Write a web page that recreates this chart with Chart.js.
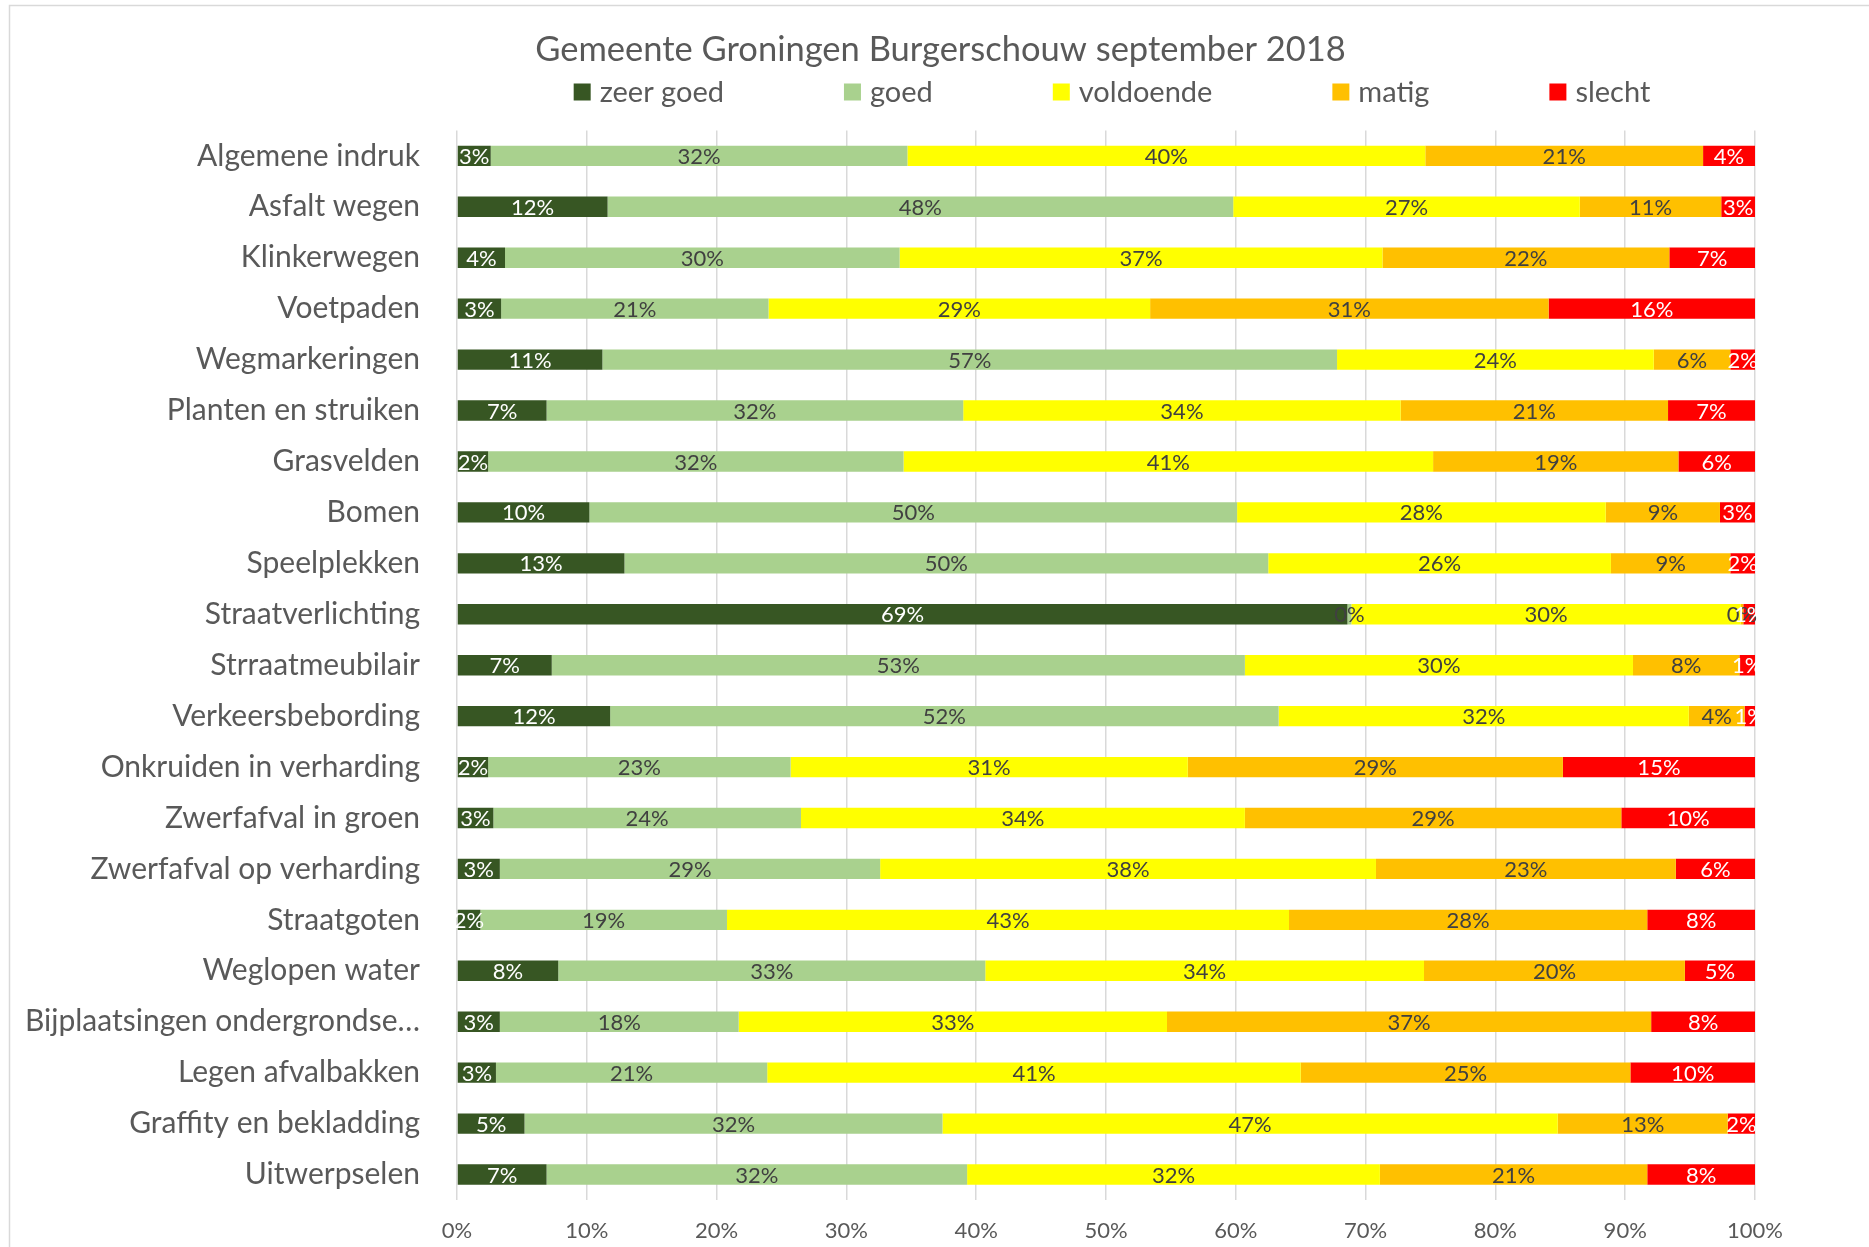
<!DOCTYPE html>
<html>
<head>
<meta charset="utf-8">
<title>Gemeente Groningen Burgerschouw september 2018</title>
<script src="https://cdn.jsdelivr.net/npm/chart.js@4.4.1/dist/chart.umd.min.js"></script>
<style>
  html, body { margin: 0; padding: 0; background: #ffffff; }
  #wrap { width: 1869px; height: 1247px; }
</style>
</head>
<body>
<div id="wrap"><canvas id="schouwChart" width="1869" height="1247"></canvas></div>
<script>
// Burgerschouw - 100% gestapelde balken per onderdeel

var FONT = "Lato, 'Liberation Sans', sans-serif";

var categories = [
    'Algemene indruk', 'Asfalt wegen', 'Klinkerwegen', 'Voetpaden', 'Wegmarkeringen',
    'Planten en struiken', 'Grasvelden', 'Bomen', 'Speelplekken', 'Straatverlichting',
    'Strraatmeubilair', 'Verkeersbebording', 'Onkruiden in verharding', 'Zwerfafval in groen',
    'Zwerfafval op verharding', 'Straatgoten', 'Weglopen water', 'Bijplaatsingen ondergrondse\u2026',
    'Legen afvalbakken', 'Graffity en bekladding', 'Uitwerpselen'
];

var seriesNames = ['zeer goed', 'goed', 'voldoende', 'matig', 'slecht'];
var seriesColors = ['#375623', '#A9D18E', '#FFFF00', '#FFC000', '#FF0000'];

// percentages (per row they add up to ~100)
var zeerGoed  = [2.6, 11.6, 3.7, 3.4, 11.2, 6.9, 2.4, 10.2, 12.9, 68.6, 7.3, 11.8, 2.4, 2.8, 3.3, 1.8, 7.8, 3.3, 3.0, 5.2, 6.9];
var goed      = [32.1, 48.2, 30.4, 20.6, 56.6, 32.1, 32.0, 49.9, 49.6, 0.3, 53.4, 51.5, 23.3, 23.7, 29.3, 19.0, 32.9, 18.4, 20.9, 32.2, 32.4];
var voldoende = [39.9, 26.7, 37.2, 29.4, 24.4, 33.7, 40.8, 28.4, 26.4, 30.0, 29.9, 31.6, 30.6, 34.2, 38.2, 43.3, 33.8, 33.0, 41.1, 47.4, 31.8];
var matig     = [21.4, 10.9, 22.1, 30.7, 5.9, 20.6, 18.9, 8.8, 9.2, 0.2, 8.2, 4.3, 28.9, 29.0, 23.1, 27.6, 20.1, 37.3, 25.4, 13.1, 20.6];
var slecht    = [4.0, 2.6, 6.6, 15.9, 1.9, 6.7, 5.9, 2.7, 1.9, 0.9, 1.2, 0.8, 14.8, 10.3, 6.1, 8.3, 5.4, 8.0, 9.6, 2.1, 8.3];

var xTicks = [0, 10, 20, 30, 40, 50, 60, 70, 80, 90, 100];

var seriesValues = [zeerGoed, goed, voldoende, matig, slecht];

// thin grey frame like the Excel chart border
var framePlugin = {
    id: 'frame',
    beforeDraw: function(chart) {
        var ctx = chart.ctx;
        ctx.save();
        ctx.fillStyle = '#ffffff';
        ctx.fillRect(0, 0, chart.width, chart.height);
        ctx.strokeStyle = '#d9d9d9';
        ctx.lineWidth = 1.5;
        ctx.strokeRect(9.5, 5.5, chart.width + 20, chart.height + 20);
        ctx.restore();
    }
};

// legend in Excel style: fixed gap after each text
var legendPlugin = {
    id: 'excelLegend',
    afterDraw: function(chart) {
        var ctx = chart.ctx;
        var box = 17, textGap = 9, itemGap = 120, y = 92;
        ctx.save();
        ctx.font = '29px ' + FONT;
        ctx.textBaseline = 'middle';
        ctx.textAlign = 'left';
        var widths = chart.data.datasets.map(function(ds) { return ctx.measureText(ds.label).width; });
        var total = 0;
        widths.forEach(function(w, i) {
            total += box + textGap + w + (i < widths.length - 1 ? itemGap : 0);
        });
        var area = chart.chartArea;
        var x = (area.left + area.right) / 2 - total / 2 + 6;
        chart.data.datasets.forEach(function(ds, i) {
            ctx.fillStyle = ds.backgroundColor;
            ctx.fillRect(x, y - box / 2, box, box);
            ctx.fillStyle = '#595959';
            ctx.fillText(ds.label, x + box + textGap, y + 1);
            x += box + textGap + widths[i] + itemGap;
        });
        ctx.restore();
    }
};

// value labels centred in each segment
var labelPlugin = {
    id: 'segmentLabels',
    afterDatasetsDraw: function(chart) {
        var ctx = chart.ctx;
        ctx.save();
        ctx.font = '22px ' + FONT;
        ctx.textAlign = 'center';
        ctx.textBaseline = 'middle';
        chart.data.datasets.forEach(function(ds, di) {
            var meta = chart.getDatasetMeta(di);
            meta.data.forEach(function(bar, i) {
                var cx = (bar.x + bar.base) / 2;
                ctx.fillStyle = (di === 0 || di === 4) ? '#ffffff' : '#404040';
                ctx.fillText(Math.round(ds.data[i]) + '%', cx, bar.y + 1);
            });
        });
        ctx.restore();
    }
};

var datasets = seriesNames.map(function(name, i) {
    return {
        label: name,
        data: seriesValues[i],
        backgroundColor: seriesColors[i],
        borderWidth: 0,
        barPercentage: 0.4,
        categoryPercentage: 1.0
    };
});

var ctx = document.getElementById('schouwChart');
var schouwChart = new Chart(ctx, {
    type: 'bar',
    data: { labels: categories, datasets: datasets },
    options: {
        indexAxis: 'y',
        responsive: false,
        animation: false,
        devicePixelRatio: 1,
        layout: { padding: { top: 0, right: 0, bottom: 0, left: 12 } },
        plugins: {
            legend: { display: false },
            tooltip: { enabled: false },
            title: {
                display: true,
                text: 'Gemeente Groningen Burgerschouw september 2018',
                color: '#595959',
                font: { family: FONT, size: 34.5, weight: 'normal' },
                padding: { top: 29, bottom: 60 }
            }
        },
        scales: {
            x: {
                stacked: true,
                min: 0,
                max: 100,
                afterBuildTicks: function(scale) {
                    scale.ticks = xTicks.map(function(v) { return { value: v }; });
                },
                afterFit: function(scale) { scale.height = 47; },
                ticks: {
                    color: '#595959',
                    font: { family: FONT, size: 22 },
                    padding: 18,
                    callback: function(v) { return v + '%'; }
                },
                grid: { color: '#d9d9d9', lineWidth: 1.5, drawTicks: false },
                border: { display: false }
            },
            y: {
                stacked: true,
                afterFit: function(scale) {
                    scale.width = 445;
                    scale.paddingTop = 0;
                    scale.paddingBottom = 0;
                },
                ticks: {
                    color: '#595959',
                    font: { family: FONT, size: 30 },
                    padding: 37,
                    autoSkip: false
                },
                grid: { display: false, drawTicks: false },
                border: { display: false }
            },
            // empty right-hand strip so the title stays centred on the canvas
            yRight: {
                type: 'linear',
                position: 'right',
                afterFit: function(scale) {
                    scale.width = 114;
                    scale.paddingTop = 0;
                    scale.paddingBottom = 0;
                },
                ticks: { display: false },
                grid: { display: false, drawTicks: false },
                border: { display: false }
            }
        }
    },
    plugins: [framePlugin, legendPlugin, labelPlugin]
});
</script>
</body>
</html>
